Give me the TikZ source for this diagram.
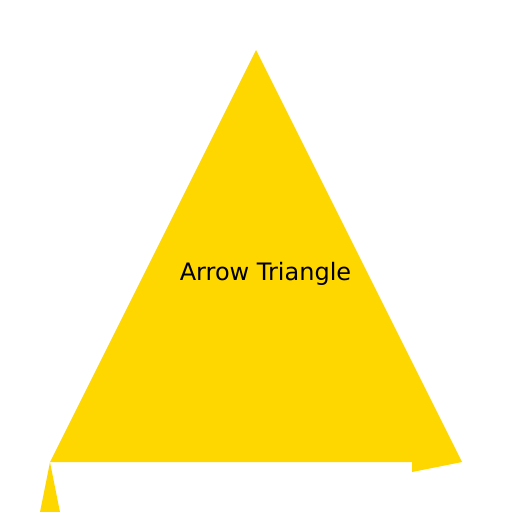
\documentclass[tikz,border=0pt]{standalone}
\usepackage{fontspec}
\setmainfont{DejaVu Sans}
\definecolor{gold}{HTML}{FFD700}
\begin{document}
\begin{tikzpicture}[x=1pt,y=-1pt,
  shapefill/.style={fill=gold,draw=none},
  label/.style={font=\fontsize{24}{29}\selectfont,text=black,inner sep=0pt,anchor=base}]
\useasboundingbox (0,0) rectangle (512,512);
\clip (0,0) rectangle (512,512);
\coordinate (apex) at (256,50);
\coordinate (bl) at (50,462);
\coordinate (br) at (462,462);
\coordinate (n1) at (412,462);
\coordinate (n2) at (412,472);
\coordinate (s1) at (60,512);
\coordinate (s2) at (40,512);
\fill[shapefill] (apex) -- (br) -- (n2) -- (n1) -- (bl) -- cycle;
\fill[shapefill] (bl) -- (s1) -- (s2) -- cycle;
\node[label] (t) at (265.5,280) {Arrow Triangle};
\end{tikzpicture}
\end{document}
